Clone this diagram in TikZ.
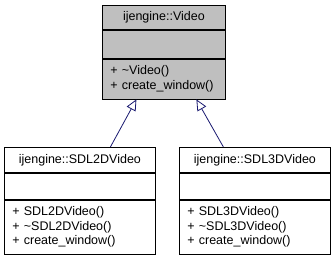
\documentclass[tikz,border=0pt]{standalone}
\usepackage{fontspec}
\setmainfont{Liberation Sans}
\usetikzlibrary{positioning,arrows.meta}

\begin{document}
\begin{tikzpicture}[x=1pt,y=-1pt,line width=.8pt,
    cls/.style={rectangle,draw,inner sep=0pt,anchor=north west,font=\fontsize{12.5}{14.5}\selectfont},
    clsrow/.style={rectangle,draw,inner sep=0pt,font=\fontsize{12.5}{14.5}\selectfont},
    ops/.style={clsrow,align=left,text width=#1,inner xsep=8pt},
    inherit/.style={draw={rgb,255:red,25;green,25;blue,112},-{Triangle[open,length=11pt,width=10pt]}}]
    \useasboundingbox (0,0) rectangle (335,259);

    % base class
    \node[cls,fill=black!25,minimum width=123pt,minimum height=24pt] (vt) at (102,5) {ijengine::Video};
    \node[clsrow,fill=black!25,minimum width=123pt,minimum height=28pt,below=0pt of vt] (va) {};
    \node[ops=107pt,fill=black!25,minimum height=40pt,below=0pt of va] (vo) {+ \textasciitilde Video()\\+ create\_window()};

    % derived classes
    \node[cls,minimum width=151pt,minimum height=25pt] (lt) at (4,147) {ijengine::SDL2DVideo};
    \node[clsrow,minimum width=151pt,minimum height=26pt,below=0pt of lt] (la) {};
    \node[ops=135pt,minimum height=54pt,below=0pt of la] (lo) {+ SDL2DVideo()\\+ \textasciitilde SDL2DVideo()\\+ create\_window()};

    \node[cls,minimum width=151pt,minimum height=25pt] (rt) at (179,147) {ijengine::SDL3DVideo};
    \node[clsrow,minimum width=151pt,minimum height=26pt,below=0pt of rt] (ra) {};
    \node[ops=135pt,minimum height=54pt,below=0pt of ra] (ro) {+ SDL3DVideo()\\+ \textasciitilde SDL3DVideo()\\+ create\_window()};

    \draw[inherit] ([xshift=30.5pt]lt.north) -- ([xshift=-27.5pt]vo.south);
    \draw[inherit] ([xshift=-31.5pt]rt.north) -- ([xshift=32.5pt]vo.south);
\end{tikzpicture}
\end{document}
